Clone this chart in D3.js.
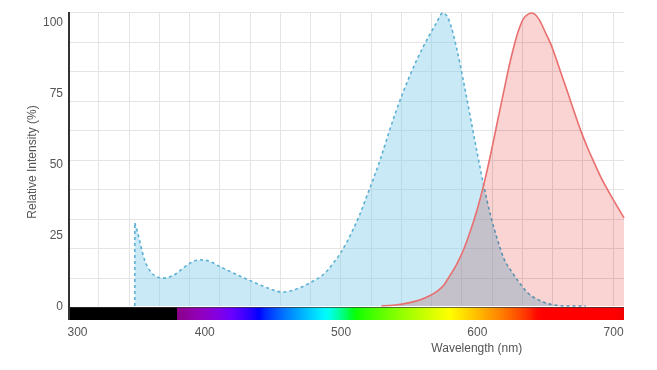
<!DOCTYPE html>
<html>
<head>
<meta charset="utf-8">
<script src="https://cdn.jsdelivr.net/npm/d3@7/dist/d3.min.js"></script>
<style>
  html, body { margin: 0; padding: 0; background: #fff; }
  svg { display: block; font-family: "Liberation Sans", Arial, sans-serif; }
</style>
</head>
<body>
<svg id="chart" width="657" height="370"></svg>
<script>
// ---- Data ----
const exWavelength = [349, 351, 353, 356, 360, 365, 370, 375, 380, 385, 390, 395, 398, 405, 410, 420, 430, 440, 450, 457, 465, 472, 480, 485, 490, 495, 500, 505, 509, 514, 519, 524, 529, 535, 540, 545, 550, 555, 560, 565, 570, 575, 578, 581, 585, 590, 595, 600, 605, 610, 615, 620, 625, 630, 637, 646, 656, 666, 680];
const exIntensity  = [29.2, 26, 22, 16.5, 12.5, 10.3, 9.8, 10.3, 11.6, 13.5, 15.2, 16.1, 16.2, 15.5, 14.2, 11.9, 9.7, 7.6, 5.7, 4.9, 5.5, 6.8, 8.8, 10.2, 12.3, 15.3, 18.6, 22.8, 26.7, 32, 38.3, 44.6, 51.3, 60.3, 67.5, 74, 80, 85.5, 90.5, 95, 99.2, 103, 102, 98.5, 91, 79.5, 67, 54.5, 42.5, 32, 23.5, 16.5, 12.5, 9, 4.8, 2, 0.4, 0, 0];

const emWavelength = [530, 540, 550, 558, 565, 571, 576, 580, 585, 590, 595, 600, 605, 610, 615, 620, 625, 630, 635, 640.5, 646, 650, 654, 661, 666, 671, 676, 681, 686, 690, 695, 700, 708];
const emIntensity  = [0.1, 0.35, 1.1, 2.1, 3.5, 5.2, 7.5, 10.5, 14.5, 19.5, 26, 33.5, 42.5, 53, 64.5, 76, 87, 96, 101.5, 103, 100.5, 96.5, 92.4, 83, 76, 68.9, 62, 55.9, 50.5, 46.3, 41.7, 37.5, 31];

const xTickValues = [300, 400, 500, 600, 700];
const xTickLabels = ["300", "400", "500", "600", "700"];
const yTickValues = [0, 25, 50, 75, 100];
const yTickLabels = ["0", "25", "50", "75", "100"];

const xTitle = "Wavelength (nm)";
const yTitle = "Relative Intensity (%)";

// ---- Layout ----
const plotLeft = 68, plotRight = 624, plotTop = 12, baseY = 306;
const barTop = 307, barBottom = 320;

const x = d3.scaleLinear().domain([300, 708]).range([plotLeft, plotRight]);
const y = d3.scaleLinear().domain([0, 103]).range([baseY, 13]);

const svg = d3.select("#chart");

// ---- Grid ----
const grid = svg.append("g").attr("class", "grid");
const xGridStep = 22.2;
const xGrid = d3.range(300 + xGridStep, 708, xGridStep);
grid.selectAll("line.vx").data(xGrid).enter().append("line")
  .attr("x1", d => Math.round(x(d)) + 0.5).attr("x2", d => Math.round(x(d)) + 0.5)
  .attr("y1", plotTop).attr("y2", baseY)
  .attr("stroke", "#e4e4e4").attr("stroke-width", 1);
const rows = 10;
const yGrid = d3.range(0, rows).map(k => plotTop + k * (barTop - plotTop) / rows);
grid.selectAll("line.hy").data(yGrid).enter().append("line")
  .attr("x1", plotLeft + 2).attr("x2", plotRight)
  .attr("y1", d => Math.round(d) + 0.5).attr("y2", d => Math.round(d) + 0.5)
  .attr("stroke", "#e4e4e4").attr("stroke-width", 1);

// ---- Series ----
const exData = exWavelength.map((w, i) => ({ w, v: exIntensity[i] }));
const emData = emWavelength.map((w, i) => ({ w, v: emIntensity[i] }));

const area = d3.area().x(d => x(d.w)).y0(y(0)).y1(d => y(d.v)).curve(d3.curveMonotoneX);
const line = d3.line().x(d => x(d.w)).y(d => y(d.v)).curve(d3.curveMonotoneX);

// excitation
svg.append("path").datum(exData).attr("d", area)
  .attr("fill", "#87ceeb").attr("fill-opacity", 0.45);
svg.append("line")
  .attr("x1", x(exData[0].w)).attr("x2", x(exData[0].w))
  .attr("y1", y(0)).attr("y2", y(exData[0].v))
  .attr("stroke", "#5cb0d2").attr("stroke-width", 1.6).attr("stroke-dasharray", "3,3");
svg.append("path").datum(exData).attr("d", line)
  .attr("fill", "none").attr("stroke", "#5cb0d2").attr("stroke-width", 1.6)
  .attr("stroke-dasharray", "3,3");

// emission
svg.append("path").datum(emData).attr("d", area)
  .attr("fill", "#f08080").attr("fill-opacity", 0.35)
  .style("mix-blend-mode", "multiply");
svg.append("path").datum(emData).attr("d", line)
  .attr("fill", "none").attr("stroke", "#ea6f6f").attr("stroke-width", 1.6);

// ---- Spectrum bar ----
function wlColor(w) {
  let r, g, b;
  if (w < 380) return "#000";
  if (w < 440) { r = -(w - 440) / 60; g = 0; b = 1; }
  else if (w < 490) { r = 0; g = (w - 440) / 50; b = 1; }
  else if (w < 510) { r = 0; g = 1; b = -(w - 510) / 20; }
  else if (w < 580) { r = (w - 510) / 70; g = 1; b = 0; }
  else if (w < 645) { r = 1; g = -(w - 645) / 65; b = 0; }
  else { r = 1; g = 0; b = 0; }
  let f = 1;
  if (w < 420) f = 0.45 + 0.55 * (w - 380) / 40;
  else if (w > 700) f = 0.3 + 0.7 * (780 - w) / 80;
  const c = v => Math.round(255 * Math.pow(v * f, 0.8));
  return `rgb(${c(r)},${c(g)},${c(b)})`;
}
const defs = svg.append("defs");
const grad = defs.append("linearGradient").attr("id", "spec")
  .attr("gradientUnits", "userSpaceOnUse")
  .attr("x1", x(300)).attr("x2", x(708)).attr("y1", 0).attr("y2", 0);
const stops = [300, 379.9].concat(d3.range(380, 709, 4));
stops.forEach(w => {
  grad.append("stop").attr("offset", (w - 300) / 408).attr("stop-color", wlColor(w));
});
svg.append("rect").attr("x", plotLeft).attr("y", barTop)
  .attr("width", plotRight - plotLeft).attr("height", barBottom - barTop)
  .attr("fill", "url(#spec)");
svg.append("line").attr("x1", plotLeft).attr("x2", plotRight)
  .attr("y1", barTop + 0.5).attr("y2", barTop + 0.5)
  .attr("stroke", "#333").attr("stroke-width", 1).attr("stroke-opacity", 0.7);

// ---- Axes ----
svg.append("line").attr("x1", plotLeft + 1).attr("x2", plotLeft + 1)
  .attr("y1", plotTop).attr("y2", barBottom)
  .attr("stroke", "#333").attr("stroke-width", 2);

const yAxis = d3.axisLeft(y).tickValues(yTickValues).tickSize(0)
  .tickFormat((d, i) => yTickLabels[i]);
const gy = svg.append("g").attr("transform", `translate(${plotLeft - 5},0)`).call(yAxis);
gy.select(".domain").remove();
gy.selectAll("text").attr("fill", "#555").attr("font-size", 12)
  .attr("font-family", "Liberation Sans, Arial, sans-serif").attr("x", 0);

const xAxis = d3.axisBottom(x).tickValues(xTickValues).tickSize(0)
  .tickFormat((d, i) => xTickLabels[i]);
const gx = svg.append("g").attr("transform", `translate(0,${barBottom + 4})`).call(xAxis);
gx.select(".domain").remove();
gx.selectAll("text").attr("fill", "#555").attr("font-size", 12)
  .attr("font-family", "Liberation Sans, Arial, sans-serif")
  .attr("text-anchor", d => d === 300 ? "start" : "middle")
  .attr("x", d => d === 300 ? -1 : 0);

svg.append("text").attr("x", x(600)).attr("y", 352)
  .attr("text-anchor", "middle").attr("font-size", 12).attr("fill", "#555")
  .text(xTitle);
svg.append("text")
  .attr("transform", `translate(36,162) rotate(-90)`)
  .attr("text-anchor", "middle").attr("font-size", 12).attr("fill", "#555")
  .text(yTitle);
</script>
</body>
</html>
